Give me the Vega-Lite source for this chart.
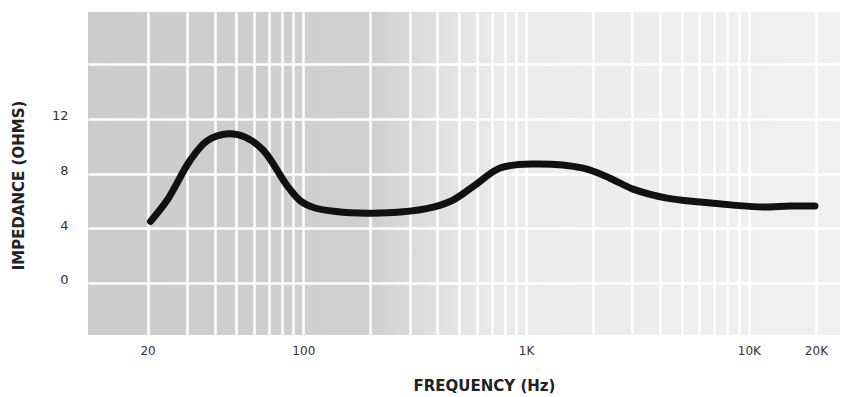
{
  "$schema": "https://vega.github.io/schema/vega-lite/v6.json",
  "width": 752,
  "height": 323,
  "autosize": {"type": "none"},
  "padding": {"left": 88, "top": 12, "right": 3, "bottom": 62},
  "background": "white",
  "config": {
    "font": "DejaVu Sans",
    "view": {
      "stroke": null,
      "fill": {
        "gradient": "linear",
        "x1": 0, "y1": 0, "x2": 1, "y2": 0,
        "stops": [
          {"offset": 0, "color": "#cccccc"},
          {"offset": 0.38, "color": "#d0d0d0"},
          {"offset": 0.46, "color": "#e0e0e0"},
          {"offset": 0.55, "color": "#ebebeb"},
          {"offset": 1, "color": "#f1f1f1"}
        ]
      }
    }
  },
  "data": {
    "values": [
      {"freq": 20.6, "imp": 4.5},
      {"freq": 24.5, "imp": 6.06},
      {"freq": 31.1, "imp": 8.98},
      {"freq": 37.1, "imp": 10.4},
      {"freq": 46, "imp": 10.9},
      {"freq": 54.8, "imp": 10.66},
      {"freq": 66.1, "imp": 9.7},
      {"freq": 84.7, "imp": 7.1},
      {"freq": 97, "imp": 6.0},
      {"freq": 112, "imp": 5.5},
      {"freq": 140, "imp": 5.22},
      {"freq": 194, "imp": 5.1},
      {"freq": 272, "imp": 5.18},
      {"freq": 383, "imp": 5.55},
      {"freq": 470, "imp": 6.06},
      {"freq": 590, "imp": 7.15},
      {"freq": 764, "imp": 8.4},
      {"freq": 1075, "imp": 8.69},
      {"freq": 1803, "imp": 8.39},
      {"freq": 2381, "imp": 7.66},
      {"freq": 3020, "imp": 6.86},
      {"freq": 4297, "imp": 6.2},
      {"freq": 6040, "imp": 5.91},
      {"freq": 8490, "imp": 5.69},
      {"freq": 11560, "imp": 5.55},
      {"freq": 15290, "imp": 5.62},
      {"freq": 19800, "imp": 5.62}
    ]
  },
  "mark": {
    "type": "line",
    "color": "#111111",
    "strokeWidth": 7,
    "strokeCap": "round",
    "strokeJoin": "round",
    "interpolate": "catmull-rom"
  },
  "encoding": {
    "x": {
      "field": "freq",
      "type": "quantitative",
      "scale": {"type": "log", "domain": [10.8, 25650], "nice": false},
      "axis": {
        "values": [20, 30, 40, 50, 60, 70, 80, 90, 100, 200, 300, 400, 500, 600, 700, 800, 900, 1000, 2000, 3000, 4000, 5000, 6000, 7000, 8000, 9000, 10000, 20000],
        "labelExpr": "datum.value == 20 ? '20' : datum.value == 100 ? '100' : datum.value == 1000 ? '1K' : datum.value == 10000 ? '10K' : datum.value == 20000 ? '20K' : ''",
        "grid": true,
        "gridColor": "white",
        "gridWidth": 2.5,
        "gridOpacity": 1,
        "ticks": false,
        "domain": false,
        "labelOverlap": false,
        "labelFlush": false,
        "labelPadding": 10,
        "labelFontSize": 12,
        "labelColor": "#333333",
        "title": "FREQUENCY (Hz)",
        "titleFontSize": 15,
        "titleFontWeight": "bold",
        "titleColor": "#222222",
        "titleX": 396,
        "titleY": 50,
        "titleAlign": "center",
        "titleBaseline": "middle"
      }
    },
    "y": {
      "field": "imp",
      "type": "quantitative",
      "scale": {"domain": [-3.8, 19.8], "nice": false, "zero": false},
      "axis": {
        "values": [0, 4, 8, 12, 16],
        "labelExpr": "datum.value > 12 ? '' : datum.label",
        "grid": true,
        "gridColor": "white",
        "gridWidth": 2.5,
        "gridOpacity": 1,
        "ticks": false,
        "domain": false,
        "labelPadding": 20,
        "labelFontSize": 13,
        "labelColor": "#333333",
        "labelOffset": -3,
        "title": "IMPEDANCE (OHMS)",
        "titleFontSize": 15,
        "titleFontWeight": "bold",
        "titleColor": "#222222",
        "titleAngle": 270,
        "titleX": -70,
        "titleY": 173,
        "titleAlign": "center",
        "titleBaseline": "middle"
      }
    }
  }
}
